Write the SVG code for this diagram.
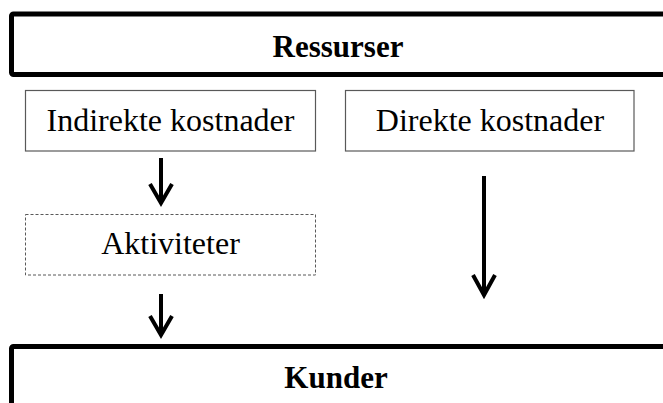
<svg xmlns="http://www.w3.org/2000/svg" width="663" height="403" viewBox="0 0 663 403">
<style>
.big{fill:#fff;stroke:#000;stroke-width:5}
.box{fill:#fff;stroke:#595959;stroke-width:1.2}
.dash{fill:#fff;stroke:#595959;stroke-width:1;stroke-dasharray:3 2}
.t{font-family:"Liberation Serif","Times New Roman",serif;font-size:32px;fill:#000;text-anchor:middle}
.b{font-family:"Liberation Serif","Times New Roman",serif;font-size:31px;font-weight:bold;fill:#000;text-anchor:middle}
.ar{fill:none;stroke:#000;stroke-width:4}
</style>
<rect width="663" height="403" fill="#fff"/>
<g id="ressurser">
<rect class="big" x="11.5" y="14" width="700" height="60.5" rx="2"/>
<text class="b" x="338" y="57">Ressurser</text>
</g>
<g id="indirekte">
<rect class="box" x="25.5" y="90.5" width="290" height="60.5"/>
<text class="t" x="170.5" y="131">Indirekte kostnader</text>
</g>
<g id="direkte">
<rect class="box" x="345.5" y="90.5" width="288.5" height="60.5"/>
<text class="t" x="490" y="131">Direkte kostnader</text>
</g>
<g id="aktiviteter">
<rect class="dash" x="25.5" y="214.5" width="290" height="60.5"/>
<text class="t" x="170.5" y="253.5">Aktiviteter</text>
</g>
<g id="kunder">
<rect class="big" x="11.5" y="346.5" width="700" height="100" rx="2"/>
<text class="b" x="336" y="388">Kunder</text>
</g>
<g id="connectors">
<path class="ar" d="M161 158V202M150 184L161 203L172 184"/>
<path class="ar" d="M484 176V294M473 275L484 295L495 275"/>
<path class="ar" d="M161 294V334M150 316L161 335L172 316"/>
</g>
</svg>
